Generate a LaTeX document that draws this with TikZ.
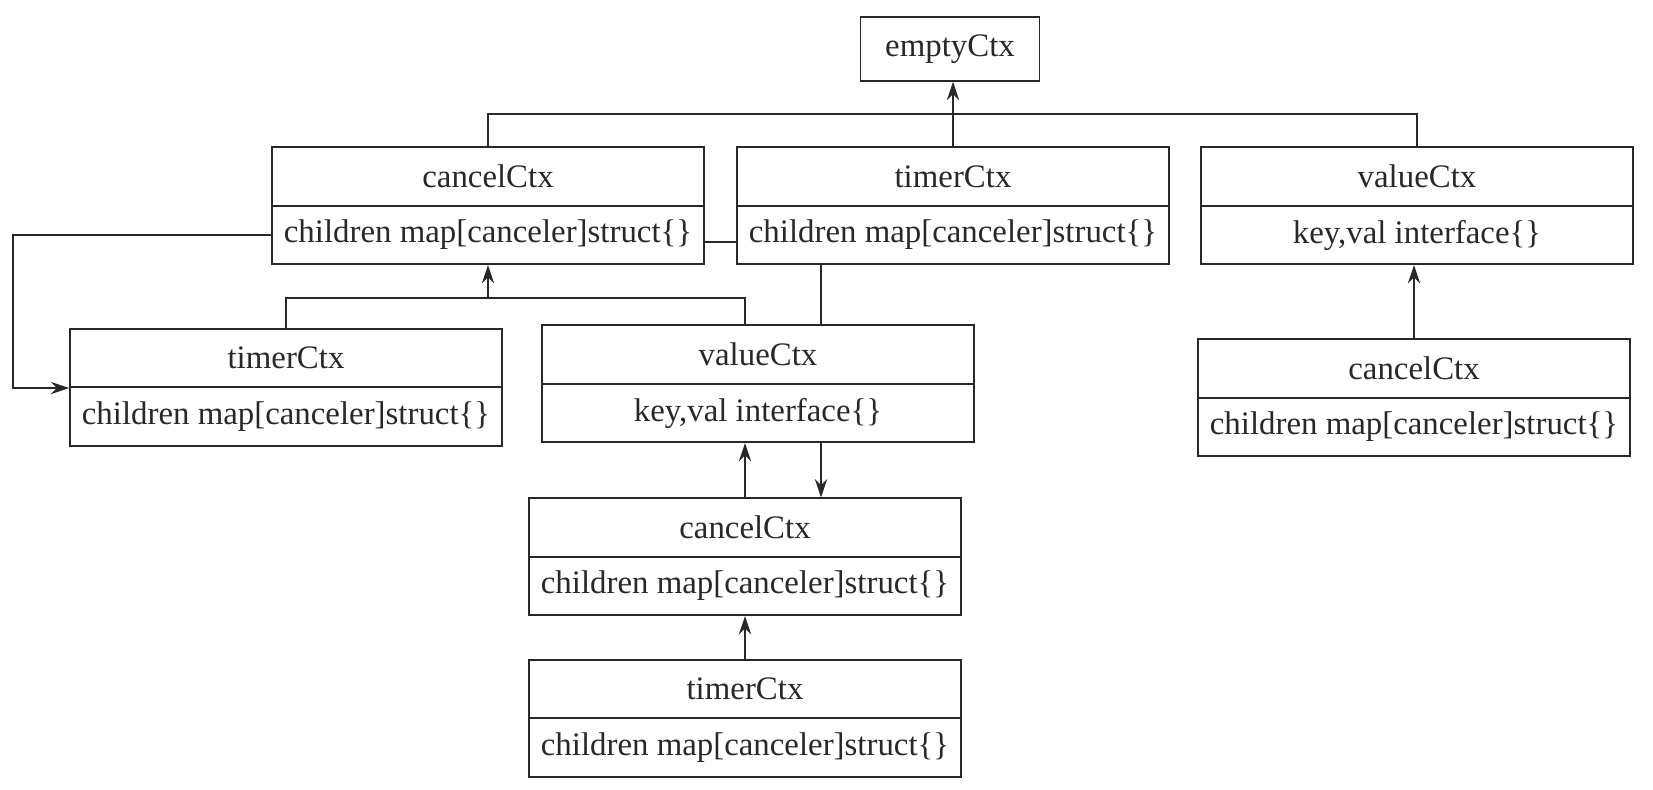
\documentclass[tikz,border=0pt]{standalone}
\usepackage{fontspec}
\setmainfont{Liberation Serif}
\usetikzlibrary{arrows.meta,positioning,calc}
\definecolor{ink}{RGB}{40,40,40}

\begin{document}
\begin{tikzpicture}[
  x=0.02cm, y=-0.02cm,
  line width=0.9pt, draw=ink, text=ink,
  hd/.style={draw, minimum width=8.64cm, minimum height=1.17cm, inner sep=0pt,
             font=\fontsize{18.7}{22}\selectfont},
  fd/.style={hd, below=-0.9pt of #1},
  tip/.style={-{Stealth[length=10.5pt,width=7pt]}},
]
\useasboundingbox (0,0) rectangle (1653,790);

\node[draw, minimum width=3.58cm, minimum height=1.28cm, inner sep=0pt,
      font=\fontsize{18.7}{22}\selectfont] (empty) at (950,49) {emptyCtx};

% first row
\node[hd] (At) at (488,176.5) {cancelCtx};
\node[fd=At] (Af) {children map[canceler]struct\{\}};
\node[hd] (Bt) at (953,176.5) {timerCtx};
\node[fd=Bt] (Bf) {children map[canceler]struct\{\}};
\node[hd] (Ct) at (1417,176.5) {valueCtx};
\node[fd=Ct] (Cf) {key,val interface\{\}};

% second row
\node[hd] (Dt) at (286,358) {timerCtx};
\node[fd=Dt] (Df) {children map[canceler]struct\{\}};
\node[hd] (Et) at (758,354.5) {valueCtx};
\node[fd=Et] (Ef) {key,val interface\{\}};
\node[hd] (Ht) at (1414,368.5) {cancelCtx};
\node[fd=Ht] (Hf) {children map[canceler]struct\{\}};

% lower column
\node[hd] (Ft) at (745,527.5) {cancelCtx};
\node[fd=Ft] (Ff) {children map[canceler]struct\{\}};
\node[hd] (Gt) at (745,689) {timerCtx};
\node[fd=Gt] (Gf) {children map[canceler]struct\{\}};

\coordinate (top) at (950,114);
\coordinate (j1) at (488,298);
\coordinate (lp) at (13,0);
\coordinate (lk) at (821,0);

\draw[tip] (Bt.north) -- (Bt.north |- empty.south);
\draw (At.north) |- (top) -| (Ct.north);
\draw ([yshift=-0.14cm]Af.east) -- ([yshift=-0.14cm]Af.east -| Bf.west);
\draw[tip] (Af.west) -- (Af.west -| lp) |- (Dt.south west);
\draw (Dt.north) -- (Dt.north |- j1) -- (j1 -| Ft.north) -- (Et.north -| Ft.north);
\draw[tip] (j1) -- (Af.south);
\draw (Bf.south -| lk) -- (Et.north -| lk);
\draw[tip] (Ft.north) -- (Ft.north |- Ef.south);
\draw[tip] (Ef.south -| lk) -- (Ft.north -| lk);
\draw[tip] (Gt.north) -- (Ff.south);
\draw[tip] (Ht.north) -- (Ht.north |- Cf.south);
\end{tikzpicture}
\end{document}
